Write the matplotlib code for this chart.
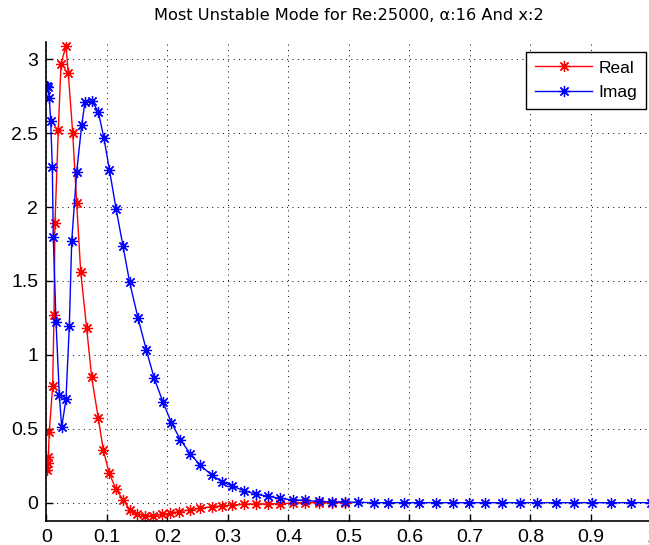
import matplotlib
matplotlib.use("Agg")
import matplotlib.pyplot as plt

# ---- data ----
x_real = [0.000, 0.0008, 0.002, 0.003, 0.0046, 0.0102, 0.0124, 0.0140, 0.0195, 0.0240,
          0.0322, 0.0360, 0.0433, 0.0499, 0.0565, 0.0664, 0.0747, 0.0856, 0.0939, 0.1033,
          0.1149, 0.1269, 0.1380, 0.1501, 0.1628, 0.1765, 0.1904, 0.2041, 0.2190, 0.2372,
          0.2537, 0.2731, 0.2896, 0.3066, 0.3260, 0.3455, 0.3653, 0.3860, 0.4069, 0.4273,
          0.4509, 0.4714, 0.4934]
real_vals = [0.24, 0.22, 0.27, 0.31, 0.48, 0.79, 1.27, 1.89, 2.52, 2.97,
             3.09, 2.905, 2.5, 2.026, 1.563, 1.18, 0.848, 0.571, 0.357, 0.203,
             0.09, 0.018, -0.05, -0.077, -0.088, -0.088, -0.079, -0.072, -0.061, -0.048,
             -0.038, -0.027, -0.022, -0.016, -0.010, -0.009, -0.008, -0.006, -0.002, 0.0,
             0.0, 0.0, 0.0]

x_imag = [0.000, 0.001, 0.002, 0.0046, 0.0069, 0.0096, 0.0112, 0.0157, 0.0212, 0.0251,
          0.0322, 0.0377, 0.0417, 0.0499, 0.0582, 0.0636, 0.0747, 0.0856, 0.0950, 0.1041,
          0.1149, 0.1264, 0.1375, 0.1512, 0.1650, 0.1780, 0.1926, 0.2066, 0.2212, 0.2372,
          0.2537, 0.2731, 0.2896, 0.3066, 0.3260, 0.3455, 0.3653, 0.3860, 0.4069, 0.4273,
          0.4509, 0.4714, 0.4934, 0.5157, 0.5413, 0.5651, 0.5909, 0.6164, 0.6438, 0.6711,
          0.6983, 0.7256, 0.7537, 0.7826, 0.8107, 0.8421, 0.8712, 0.9012, 0.9331, 0.9653,
          1.0]
imag_vals = [2.80, 2.82, 2.81, 2.74, 2.585, 2.27, 1.80, 1.225, 0.73, 0.51,
             0.70, 1.195, 1.77, 2.24, 2.555, 2.71, 2.72, 2.645, 2.465, 2.25,
             1.99, 1.737, 1.49, 1.25, 1.033, 0.842, 0.68, 0.54, 0.427, 0.332,
             0.255, 0.187, 0.142, 0.114, 0.081, 0.059, 0.043, 0.030, 0.018, 0.015,
             0.008, 0.006, 0.005, 0.002, 0.0, 0.0, 0.0, 0.0, 0.0, 0.0,
             0.0, 0.0, 0.0, 0.0, 0.0, 0.0, 0.0, 0.0, 0.0, 0.0,
             0.0]

series_labels = ["Real", "Imag"]
x_ticks = [0, 0.1, 0.2, 0.3, 0.4, 0.5, 0.6, 0.7, 0.8, 0.9, 1.0]
x_tick_labels = ["0", "0.1", "0.2", "0.3", "0.4", "0.5", "0.6", "0.7", "0.8", "0.9", "1"]
y_ticks = [0, 0.5, 1, 1.5, 2, 2.5, 3]
y_tick_labels = ["0", "0.5", "1", "1.5", "2", "2.5", "3"]
title_text = "Most Unstable Mode for Re:25000, \u03b1:16 And x:2"

# ---- figure ----
W, H = 649, 545
fig = plt.figure(figsize=(W / 100, H / 100), dpi=100)
left_px, right_px, top_px, bot_px = 46.5, 651.5, 41.7, 520.7
ax = fig.add_axes([left_px / W, (H - bot_px) / H,
                   (right_px - left_px) / W, (bot_px - top_px) / H])

star = (8, 2, 0)
ax.plot(x_real, real_vals, color="#ff0000", lw=1.0, marker=star, ms=8,
        mew=0.9, label=series_labels[0])
ax.plot(x_imag, imag_vals, color="#0000ff", lw=1.0, marker=star, ms=8,
        mew=0.9, label=series_labels[1])

ax.set_xlim(0, 1.0)
ax.set_ylim(-0.122, 3.119)
ax.set_xticks(x_ticks)
ax.set_xticklabels(x_tick_labels)
ax.set_yticks(y_ticks)
ax.set_yticklabels(y_tick_labels)

tick_family = ["Liberation Sans Narrow", "Liberation Sans", "DejaVu Sans"]
for lab in ax.get_xticklabels() + ax.get_yticklabels():
    lab.set_fontfamily(tick_family)
    lab.set_fontsize(14)

ax.tick_params(direction="in", length=5, width=1, colors="black", pad=6)
ax.grid(True, color="black", linestyle=(0, (1, 4.5)), linewidth=0.7)
ax.set_axisbelow(True)

for s in ["top", "right"]:
    ax.spines[s].set_visible(False)
for s in ["left", "bottom"]:
    ax.spines[s].set_linewidth(1.2)
    ax.spines[s].set_color("black")

ax.set_title(title_text, fontsize=11.7, family="DejaVu Sans", pad=15.5)

leg = ax.legend(loc="upper right", bbox_to_anchor=(646 / W, (H - 51.7) / H),
                bbox_transform=fig.transFigure, borderaxespad=0,
                prop=dict(family="Liberation Sans", size=12.5),
                handlelength=3.3, handletextpad=0.36, borderpad=0.5,
                labelspacing=0.55, fancybox=False, framealpha=1, edgecolor="black")
leg.get_frame().set_linewidth(1.0)

fig.savefig("out.png", dpi=100)
